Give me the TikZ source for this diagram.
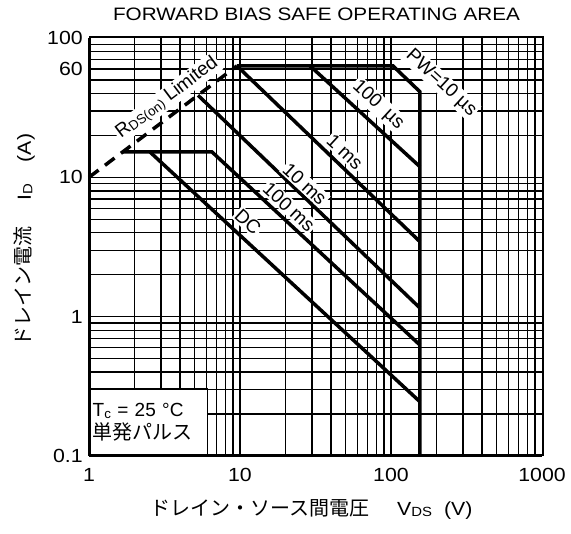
\documentclass[tikz,border=0pt]{standalone}
\usepackage{fontspec}
\usepackage{graphicx}
\setmainfont{Liberation Sans}
\newfontfamily\widefont[FakeStretch=1.12]{Liberation Sans}
\newfontfamily\titlefont[FakeStretch=1.15]{Liberation Sans}
\newfontfamily\jpfont{Noto Sans CJK JP}
\usetikzlibrary{positioning}

\newcommand\lowsub[1]{\raisebox{-0.15ex}{\scalebox{0.7}{#1}}}

\begin{document}
\begin{tikzpicture}[x=151bp, y=139.3bp,
    gridline/.style={line width=1.3bp},
    soaline/.style={line width=3.5bp, line join=miter},
    rdsline/.style={soaline, dash pattern=on 12bp off 8bp},
    curvelabel/.style={fill=white, inner sep=1.5bp, font=\fontsize{19bp}{19bp}\selectfont},
    ticklabel/.style={inner sep=0pt, font=\widefont\fontsize{19bp}{19bp}\selectfont},
    axistitle/.style={inner sep=0pt, font=\widefont\fontsize{19bp}{19bp}\selectfont},
    infobox/.style={draw, line width=1.5bp, fill=white, inner sep=3bp, align=left,
        text width=112bp, minimum height=66bp, font=\fontsize{19bp}{23bp}\selectfont}]

    \useasboundingbox (-0.589,-1.553) rectangle (3.192,2.273);

    % log grid
    \foreach \d in {0,1,2}
        \foreach \k in {1,...,9}
            \draw[gridline] ({\d+log10(\k)},-1) -- ({\d+log10(\k)},2);
    \foreach \d in {-1,0,1}
        \foreach \k in {1,...,9}
            \draw[gridline] (0,{\d+log10(\k)}) -- (3,{\d+log10(\k)});

    % corner points of the SOA curves
    \coordinate (rdsA) at (0,1);
    \coordinate (rdsB) at (0.98,1.80);
    \coordinate (pwA) at (2.013,1.80);
    \coordinate (pwB) at (2.192,1.614);
    \coordinate (vmax) at (2.192,-1);
    \coordinate (usA) at (1.464,1.80);
    \coordinate (usB) at (2.192,1.076);
    \coordinate (msB) at (2.192,0.538);
    \coordinate (tenA) at (0.722,1.589);
    \coordinate (tenB) at (2.192,0.062);
    \coordinate (flatA) at (0.223,1.182);
    \coordinate (flatB) at (0.815,1.182);
    \coordinate (hundB) at (2.192,-0.204);
    \coordinate (dcA) at (0.404,1.182);
    \coordinate (dcB) at (2.192,-0.611);

    \draw[rdsline] (rdsA) -- (rdsB);
    \draw[soaline] (rdsB) -- (pwA) -- (pwB) -- (vmax);
    \draw[soaline] (usA) -- (usB);
    \draw[soaline] (rdsB) -- (msB);
    \draw[soaline] (tenA) -- (tenB);
    \draw[soaline] (flatA) -- (flatB) -- (hundB);
    \draw[soaline] (dcA) -- (dcB);

    % curve labels
    \node[curvelabel, rotate=37] (lblrds) at (0.517,1.569) {R\lowsub{DS(on)} Limited};
    \node[curvelabel, rotate=-42.7] (lblpw) at (2.331,1.677) {PW=10 µs};
    \node[curvelabel, rotate=-42.7] (lblus) at (1.914,1.519) {100 \ µs};
    \node[curvelabel, rotate=-42.7] (lblms) at (1.695,1.182) {1 ms};
    \node[curvelabel, rotate=-42.7] (lblten) at (1.430,0.952) {10 ms};
    \node[curvelabel, rotate=-42.7] (lblhund) at (1.325,0.787) {100 ms};
    \node[curvelabel, rotate=-42.7] (lbldc) at (1.053,0.679) {DC};

    \node[infobox, anchor=south west] (tcbox) at (0,-1) {T\lowsub{c} = 25 °C\\{\jpfont\fontsize{20bp}{23bp}\selectfont 単発パルス}};

    \node[draw, line width=2bp, inner sep=0pt, minimum width=453bp, minimum height=417.9bp,
        anchor=south west] (frame) at (0,-1) {};

    % tick labels
    \node[ticklabel, left=6bp] (y100) at (0,2) {100};
    \node[ticklabel, left=6bp] (y60) at (0,1.778) {60};
    \node[ticklabel, left=6bp] (y10) at (0,1) {10};
    \node[ticklabel, left=6bp] (y1) at (0,0) {1};
    \node[ticklabel, left=6bp] (y01) at (0,-1) {0.1};
    \node[ticklabel, below=12bp] (x1) at (0,-1) {1};
    \node[ticklabel, below=12bp] (x10) at (1,-1) {10};
    \node[ticklabel, below=12bp] (x100) at (2,-1) {100};
    \node[ticklabel, below=12bp] (x1000) at (3,-1) {1000};

    % titles
    \node[axistitle, font=\titlefont\fontsize{18bp}{18bp}\selectfont, above=15bp of frame] (title)
        {FORWARD BIAS SAFE OPERATING AREA};
    \node[axistitle, anchor=base west] (xtitle) at (0.404,-1.424)
        {{\jpfont\fontsize{20bp}{20bp}\selectfont ドレイン・ソース間電圧}\hspace{28bp}V\lowsub{DS}\hspace{12bp}(V)};
    \node[axistitle, rotate=90, anchor=base west] (ytitle) at (-0.384,-0.218)
        {{\jpfont\fontsize{20bp}{20bp}\selectfont ドレイン電流}\hspace{26bp}I\lowsub{D}\hspace{22bp}(A)};

\end{tikzpicture}
\end{document}
